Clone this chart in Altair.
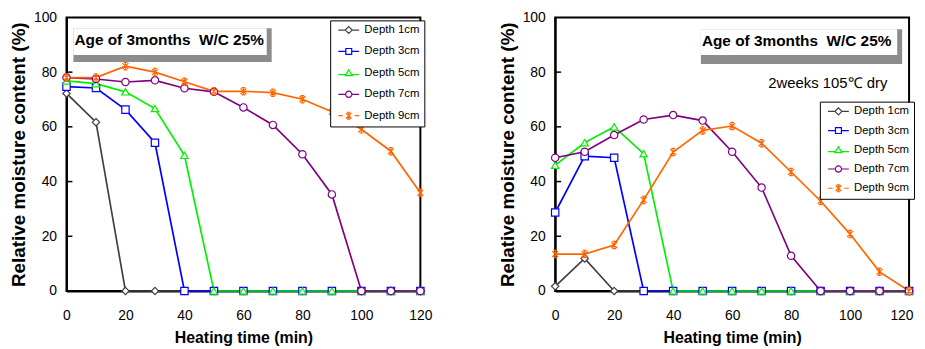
import altair as alt
import pandas as pd

# ---------------- data ----------------
time_min = [0, 10, 20, 30, 40, 50, 60, 70, 80, 90, 100, 110, 120]
series = ["Depth 1cm", "Depth 3cm", "Depth 5cm", "Depth 7cm", "Depth 9cm"]
colors = ["#404040", "#0000ff", "#00f000", "#800080", "#ff6600"]

left_1cm = [72.2, 61.7, 0, 0, 0, 0, 0, 0, 0, 0, 0, 0, 0]
left_3cm = [74.7, 74.2, 66.3, 54.2, 0, 0, 0, 0, 0, 0, 0, 0, 0]
left_5cm = [76.8, 75.8, 72.8, 66.7, 49.6, 0, 0, 0, 0, 0, 0, 0, 0]
left_7cm = [78.0, 77.5, 76.4, 77.0, 74.1, 72.8, 67.1, 60.7, 50.0, 35.3, 0, 0, 0]
left_9cm = [78.0, 78.0, 82.2, 80.0, 76.5, 73.0, 73.0, 72.5, 70.1, 65.5, 59.1, 51.1, 35.9]

right_1cm = [1.7, 11.9, 0, 0, 0, 0, 0, 0, 0, 0, 0, 0, 0]
right_3cm = [28.7, 49.3, 48.7, 0, 0, 0, 0, 0, 0, 0, 0, 0, 0]
right_5cm = [46.0, 54.2, 60.0, 50.2, 0, 0, 0, 0, 0, 0, 0, 0, 0]
right_7cm = [48.7, 50.9, 57.0, 62.7, 64.3, 62.3, 50.9, 37.8, 12.9, 0, 0, 0, 0]
right_9cm = [13.5, 13.5, 16.8, 33.3, 50.8, 58.7, 60.3, 54.0, 43.5, 32.9, 20.8, 7.0, 0]

x_ticks = [0, 20, 40, 60, 80, 100, 120]
y_ticks = [0, 20, 40, 60, 80, 100]
inner_ticks = [20, 40, 60, 80]

box_title = "Age of 3months\u00a0 W/C 25%"
note_right = "2weeks 105\u2103 dry"
x_title = "Heating time (min)"
y_title = "Relative moisture content (%)"

# ---------------- styling ----------------
SANS = "Liberation Sans"
W, H = 357, 276

AST = "M0,-1L0,1M-0.8,-0.8L0.8,0.8M-0.8,0.8L0.8,-0.8M-0.5,-1L0.5,-1M-0.5,1L0.5,1"
plot_shapes = ["M0,-1L1,0L0,1L-1,0Z", "square", "triangle-up", "circle", AST]
legend_shapes = [
    "M-3,0L-1,0M1,0L3,0M0,-1L1,0L0,1L-1,0Z",
    "M-3,0L-0.85,0M0.85,0L3,0M-0.85,-0.85L0.85,-0.85L0.85,0.85L-0.85,0.85Z",
    "M-3,0.5L-0.82,0.5M0.82,0.5L3,0.5M0,-0.9L1,0.8L-1,0.8Z",
    "M-3,0L-0.9,0M0.9,0L3,0M0.9,0A0.9,0.9,0,1,1,-0.9,0A0.9,0.9,0,1,1,0.9,0Z",
    "M-3,0L-1.7,0M1.7,0L3,0" + AST,
]


def one_row():
    return pd.DataFrame({"a": [0]})


def make_panel(value_lists, legend_pos, legend_rowpad, title_box, note=None, flush=False):
    rows = []
    for name, vals in zip(series, value_lists):
        for t, v in zip(time_min, vals):
            rows.append({"time": t, "value": v, "series": name})
    df = pd.DataFrame(rows)

    x_axis_kw = dict(
        values=x_ticks, title=x_title, ticks=False, grid=False,
        labelFont=SANS, labelFontSize=14, labelColor="black", labelPadding=18,
        titleFont=SANS, titleFontSize=16, titleFontWeight="bold",
        titleColor="black", titlePadding=7,
    )
    if flush:
        x_axis_kw.update(labelFlush=True, labelFlushOffset=4)
    else:
        x_axis_kw.update(labelFlush=False)
    x_enc = alt.X(
        "time:Q",
        scale=alt.Scale(domain=[0, 120], nice=False, zero=False),
        axis=alt.Axis(**x_axis_kw),
    )
    y_enc = alt.Y(
        "value:Q",
        scale=alt.Scale(domain=[0, 100], nice=False),
        axis=alt.Axis(
            values=y_ticks, title=y_title, ticks=False, grid=False,
            labelFont=SANS, labelFontSize=14, labelColor="black", labelPadding=10,
            titleFont=SANS, titleFontSize=19, titleFontWeight="bold",
            titleColor="black", titlePadding=5, labelFlush=False,
        ),
    )
    stroke_plot = alt.Stroke("series:N", scale=alt.Scale(domain=series, range=colors), legend=None)
    shape_plot = alt.Shape("series:N", scale=alt.Scale(domain=series, range=plot_shapes), legend=None)

    lines = alt.Chart(df).mark_line(strokeWidth=1.7).encode(x=x_enc, y=y_enc, stroke=stroke_plot)
    points = alt.Chart(df).mark_point(
        filled=True, fill="white", size=55, strokeWidth=1.2, opacity=1
    ).encode(x=x_enc, y=y_enc, stroke=stroke_plot, shape=shape_plot)

    ticks = alt.Chart(pd.DataFrame({"value": inner_ticks})).mark_rule(
        color="black", strokeWidth=1.5
    ).encode(y=y_enc, x=alt.value(0), x2=alt.value(6))

    lx, ly, lw, lh = legend_pos
    shadow = alt.Chart(one_row()).mark_rect(color="black").encode(
        x=alt.value(lx + 3), x2=alt.value(lx + lw + 3),
        y=alt.value(ly + 3), y2=alt.value(ly + lh + 3),
    )

    bx, by, bw, bh, bb = title_box
    gray = alt.Chart(one_row()).mark_rect(color="#8c8c8c").encode(
        x=alt.value(bx), x2=alt.value(bx + bw), y=alt.value(by), y2=alt.value(by + bh)
    )
    white = alt.Chart(one_row()).mark_rect(color="white").encode(
        x=alt.value(bx), x2=alt.value(bx + bw - 5), y=alt.value(by), y2=alt.value(by + bh - bb)
    )
    title_txt = alt.Chart(one_row()).mark_text(
        text=box_title, font=SANS, fontSize=15.5, fontWeight="bold", align="left",
        baseline="middle", color="black",
    ).encode(x=alt.value(bx + 1), y=alt.value(by + 12))

    layers = [lines, points, ticks, shadow, gray, white, title_txt]
    if note is not None:
        ntext, nx, ny = note
        layers.append(
            alt.Chart(one_row()).mark_text(
                text=ntext, font=SANS, fontSize=15, align="left", baseline="middle", color="black"
            ).encode(x=alt.value(nx), y=alt.value(ny))
        )
    inner = alt.layer(*layers)

    leg = alt.Legend(
        orient="none", legendX=lx, legendY=ly, title=None,
        strokeColor="black", fillColor="white", padding=4,
        symbolSize=49, symbolOffset=9, labelOffset=10,
        symbolStrokeWidth=1.2, symbolFillColor="white",
        labelFont=SANS, labelFontSize=11.5, labelColor="black",
        rowPadding=legend_rowpad, labelLimit=90,
    )
    legend_layer = alt.Chart(pd.DataFrame({"series": series})).mark_point(
        filled=True, fill="white", size=49, strokeWidth=1.2, opacity=1, clip=True
    ).encode(
        x=alt.value(-100), y=alt.value(-100),
        stroke=alt.Stroke("series:N", scale=alt.Scale(domain=series, range=colors), legend=leg),
        shape=alt.Shape("series:N", scale=alt.Scale(domain=series, range=legend_shapes), legend=leg),
    )
    return alt.layer(inner, legend_layer).resolve_scale(
        stroke="independent", shape="independent"
    ).properties(width=W, height=H)


left = make_panel(
    [left_1cm, left_3cm, left_5cm, left_7cm, left_9cm],
    legend_pos=(266, 3, 89, 100), legend_rowpad=8.6,
    title_box=(7, 11, 200, 34, 7),
)
right = make_panel(
    [right_1cm, right_3cm, right_5cm, right_7cm, right_9cm],
    legend_pos=(267, 85, 89, 91), legend_rowpad=6.4,
    title_box=(147, 12, 203, 35, 9),
    note=(note_right, 215, 66),
    flush=True,
)

chart = alt.hconcat(left, right, spacing=64).resolve_scale(
    stroke="independent", shape="independent"
).resolve_legend(stroke="independent", shape="independent").configure_view(
    stroke="black", strokeWidth=2
).configure_axis(
    domainColor="black", domainWidth=2
).properties(
    padding={"left": 0, "top": 0, "right": 0, "bottom": 0}
)

chart.save("out.html", embed_options={"renderer": "svg", "actions": False})
